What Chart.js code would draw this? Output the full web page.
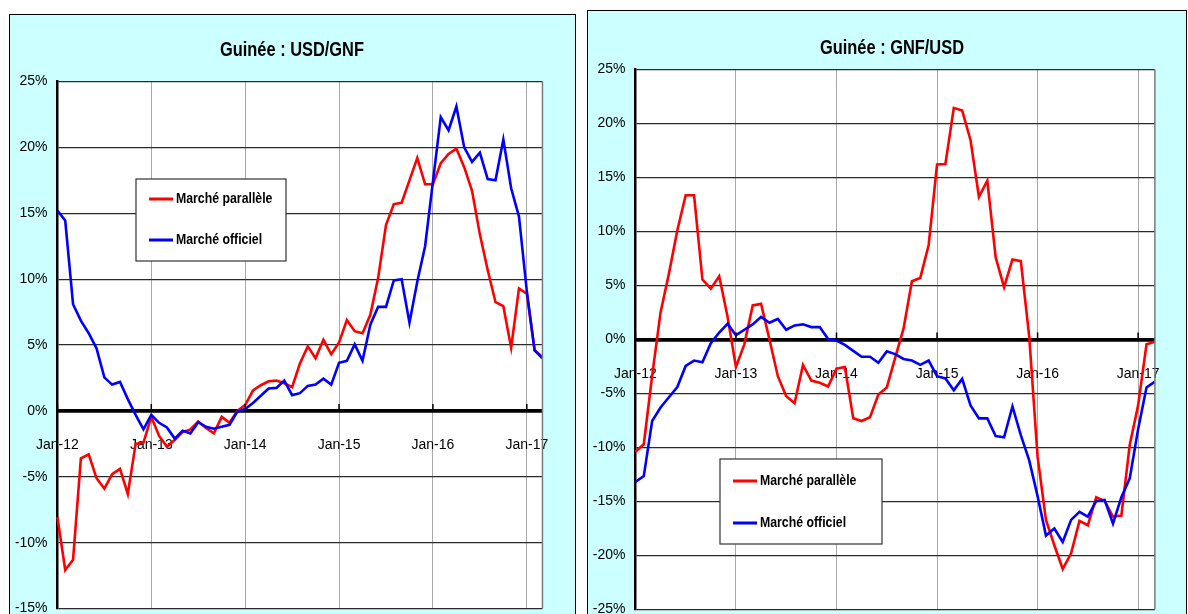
<!DOCTYPE html>
<html>
<head>
<meta charset="utf-8">
<script src="https://cdn.jsdelivr.net/npm/chart.js@4.4.1/dist/chart.umd.min.js"></script>
<style>
  html, body { margin: 0; padding: 0; background: #fff; overflow: hidden; width: 1188px; height: 614px; }
  .panel { position: absolute; background: #ccffff; border: 1px solid #000; }
  #panelLeft { left: 9px; top: 14px; width: 565px; height: 630px; }
  #panelRight { left: 587px; top: 10px; width: 598px; height: 630px; }
  canvas { display: block; }
</style>
</head>
<body>
<div class="panel" id="panelLeft"><canvas id="chartLeft" width="565" height="630"></canvas></div>
<div class="panel" id="panelRight"><canvas id="chartRight" width="598" height="630"></canvas></div>

<script>
const months = [
  'Jan-12','Feb-12','Mar-12','Apr-12','May-12','Jun-12','Jul-12','Aug-12','Sep-12','Oct-12','Nov-12','Dec-12',
  'Jan-13','Feb-13','Mar-13','Apr-13','May-13','Jun-13','Jul-13','Aug-13','Sep-13','Oct-13','Nov-13','Dec-13',
  'Jan-14','Feb-14','Mar-14','Apr-14','May-14','Jun-14','Jul-14','Aug-14','Sep-14','Oct-14','Nov-14','Dec-14',
  'Jan-15','Feb-15','Mar-15','Apr-15','May-15','Jun-15','Jul-15','Aug-15','Sep-15','Oct-15','Nov-15','Dec-15',
  'Jan-16','Feb-16','Mar-16','Apr-16','May-16','Jun-16','Jul-16','Aug-16','Sep-16','Oct-16','Nov-16','Dec-16',
  'Jan-17','Feb-17','Mar-17'
];

const seriesNames = ['Marché parallèle', 'Marché officiel'];

// Guinée : USD/GNF (%)
const usdGnfParallele = [
  -8.05, -12.07, -11.3, -3.6, -3.3, -5.1, -5.9, -4.8, -4.4, -6.3, -2.5, -2.4,
  -0.45, -1.9, -2.7, -2.2, -1.6, -1.4, -0.8, -1.3, -1.7, -0.45, -0.9, 0,
  0.45, 1.55, 1.95, 2.25, 2.3, 2.1, 1.8, 3.6, 4.9, 4.0, 5.4, 4.3,
  5.2, 6.9, 6.05, 5.9, 7.3, 10.1, 14.1, 15.7, 15.8, 17.5, 19.2, 17.2,
  17.2, 18.8, 19.5, 19.9, 18.5, 16.7, 13.4, 10.7, 8.25, 7.95, 4.8, 9.3,
  8.9, 4.6, 4.1
];
const usdGnfOfficiel = [
  15.2, 14.45, 8.1, 6.85, 5.9, 4.75, 2.55, 2.0, 2.2, 0.9, -0.3, -1.4,
  -0.3, -0.9, -1.25, -2.1, -1.5, -1.7, -0.85, -1.2, -1.35, -1.2, -1.05, -0.05,
  0.15, 0.6, 1.15, 1.7, 1.75, 2.3, 1.2, 1.35, 1.9, 2.0, 2.45, 2.0,
  3.65, 3.8, 5.05, 3.8, 6.55, 7.9, 7.9, 9.9, 10.0, 6.7, 9.8, 12.5,
  17.4, 22.3, 21.3, 23.1, 20.0, 18.9, 19.6, 17.6, 17.5, 20.6, 16.9, 14.75,
  9.1, 4.6, 4.0
];

// Guinée : GNF/USD (%)
const gnfUsdParallele = [
  -10.4, -9.7, -3.35, 2.5, 6.1, 10.1, 13.35, 13.35, 5.55, 4.7, 5.85, 2.1,
  -2.55, -0.45, 3.15, 3.3, 0, -3.4, -5.25, -5.9, -2.35, -3.8, -4.0, -4.35,
  -2.7, -2.55, -7.3, -7.55, -7.2, -5.1, -4.45, -1.7, 1.0, 5.4, 5.7, 8.75,
  16.2, 16.25, 21.45, 21.2, 18.45, 13.2, 14.7, 7.6, 4.85, 7.4, 7.25, 0.3,
  -10.85, -16.7, -19.05, -21.25, -19.8, -16.8, -17.2, -14.6, -14.95, -16.4, -16.3, -9.75,
  -6.1, -0.45, -0.2
];
const gnfUsdOfficiel = [
  -13.2, -12.65, -7.55, -6.3, -5.35, -4.4, -2.45, -1.95, -2.1, -0.35, 0.65, 1.45,
  0.4, 0.9, 1.4, 2.1, 1.55, 1.9, 0.9, 1.3, 1.4, 1.15, 1.15, 0.05,
  -0.1, -0.5, -1.05, -1.6, -1.6, -2.15, -1.1, -1.35, -1.8, -1.95, -2.35, -1.95,
  -3.4, -3.6, -4.7, -3.65, -6.1, -7.3, -7.3, -8.95, -9.05, -6.2, -8.85, -11.2,
  -14.5, -18.15, -17.5, -18.75, -16.7, -15.95, -16.4, -14.95, -14.85, -17.05, -14.6, -12.85,
  -8.3, -4.45, -3.9
];

const sans = "'Liberation Sans', Arial, sans-serif";

// texte etroit facon Arial Narrow
function narrowText(ctx, text, x, y, align) {
  ctx.save();
  ctx.translate(x, y);
  ctx.scale(0.82, 1);
  ctx.textAlign = align;
  ctx.fillText(text, 0, 0);
  ctx.restore();
}

// fond blanc, bord droit, titre, petites marques sur l'axe 0 et legende encadree
const plotDeco = {
  id: 'plotDeco',
  beforeDraw(chart) {
    const a = chart.chartArea, ctx = chart.ctx;
    ctx.save();
    ctx.fillStyle = '#fff';
    ctx.fillRect(a.left, a.top, a.right - a.left, a.bottom - a.top);
    ctx.restore();
  },
  afterDraw(chart, args, opts) {
    const a = chart.chartArea, ctx = chart.ctx;
    const xs = chart.scales.x, ys = chart.scales.y;
    ctx.save();
    ctx.strokeStyle = '#7a7a7a';
    ctx.lineWidth = 1.5;
    ctx.beginPath();
    ctx.moveTo(a.right, a.top);
    ctx.lineTo(a.right, a.bottom);
    ctx.stroke();

    const y0 = ys.getPixelForValue(0);
    ctx.strokeStyle = '#000';
    ctx.lineWidth = 1.5;
    months.forEach((m, i) => {
      if (!m.startsWith('Jan-')) return;
      const px = xs.getPixelForValue(i);
      ctx.beginPath();
      ctx.moveTo(px, y0 - 7);
      ctx.lineTo(px, y0);
      ctx.stroke();
    });

    ctx.fillStyle = '#000';
    ctx.textBaseline = 'middle';
    ctx.font = 'bold 20px ' + sans;
    narrowText(ctx, opts.title, opts.titleX, opts.titleY, 'center');

    const L = opts.legend;
    ctx.fillStyle = '#fff';
    ctx.fillRect(L.x, L.y, L.w, L.h);
    ctx.strokeStyle = '#333';
    ctx.lineWidth = 1.2;
    ctx.strokeRect(L.x, L.y, L.w, L.h);
    ctx.font = 'bold 15px ' + sans;
    chart.data.datasets.forEach((ds, k) => {
      const ly = L.y + L.rows[k];
      ctx.strokeStyle = ds.borderColor;
      ctx.lineWidth = 3;
      ctx.beginPath();
      ctx.moveTo(L.x + 13, ly);
      ctx.lineTo(L.x + 37, ly);
      ctx.stroke();
      ctx.fillStyle = '#000';
      narrowText(ctx, ds.label, L.x + 40, ly, 'left');
    });
    ctx.restore();
  }
};

function makeChart(id, title, red, blue, yMin, yMax, geo) {
  const ctx = document.getElementById(id).getContext('2d');
  return new Chart(ctx, {
    type: 'line',
    data: {
      labels: months,
      datasets: [
        { label: seriesNames[0], data: red, borderColor: '#ff0000', borderWidth: 2.6, pointRadius: 0, tension: 0, order: 1 },
        { label: seriesNames[1], data: blue, borderColor: '#0000ff', borderWidth: 2.6, pointRadius: 0, tension: 0, order: 0 }
      ]
    },
    options: {
      responsive: false,
      animation: false,
      layout: { padding: { left: 0, right: geo.padRight, top: geo.padTop, bottom: geo.padBottom } },
      plugins: {
        legend: { display: false },
        tooltip: { enabled: false },
        title: { display: false },
        plotDeco: { title: title, titleX: geo.titleX, titleY: geo.titleY, legend: geo.legend }
      },
      scales: {
        x: {
          position: { y: 0 },
          grid: {
            color: '#a8a8a8',
            lineWidth: 1,
            drawTicks: false
          },
          border: { display: true, color: '#000', width: 3.5 },
          ticks: {
            autoSkip: false,
            maxRotation: 0,
            padding: 26,
            color: '#000',
            font: { family: sans, size: 14 },
            callback: (v, i) => months[i].startsWith('Jan-') ? months[i] : null
          }
        },
        y: {
          min: yMin,
          max: yMax,
          afterFit: (s) => { s.width = geo.axisWidth; },
          grid: {
            color: (c) => c.tick.value === 0 ? '#000' : '#2a2a2a',
            lineWidth: (c) => c.tick.value === 0 ? 3.5 : 1.3,
            drawTicks: false
          },
          border: { display: true, color: '#000', width: 2.5 },
          ticks: {
            stepSize: 5,
            padding: 10,
            color: '#000',
            font: { family: sans, size: 14 },
            callback: (v) => v + '%'
          }
        }
      }
    },
    plugins: [plotDeco]
  });
}

makeChart('chartLeft', 'Guinée : USD/GNF', usdGnfParallele, usdGnfOfficiel, -15, 25, {
  padRight: 30, padBottom: 36.4, padTop: 66.5, axisWidth: 42, titleX: 282, titleY: 35,
  legend: { x: 126, y: 164, w: 150, h: 82, rows: [20, 61] }
});

makeChart('chartRight', 'Guinée : GNF/USD', gnfUsdParallele, gnfUsdOfficiel, -25, 25, {
  padRight: 18, padBottom: 31.5, padTop: 58.5, axisWidth: 44, titleX: 304, titleY: 37,
  legend: { x: 132, y: 448, w: 162, h: 85, rows: [22, 64] }
});
</script>
</body>
</html>
